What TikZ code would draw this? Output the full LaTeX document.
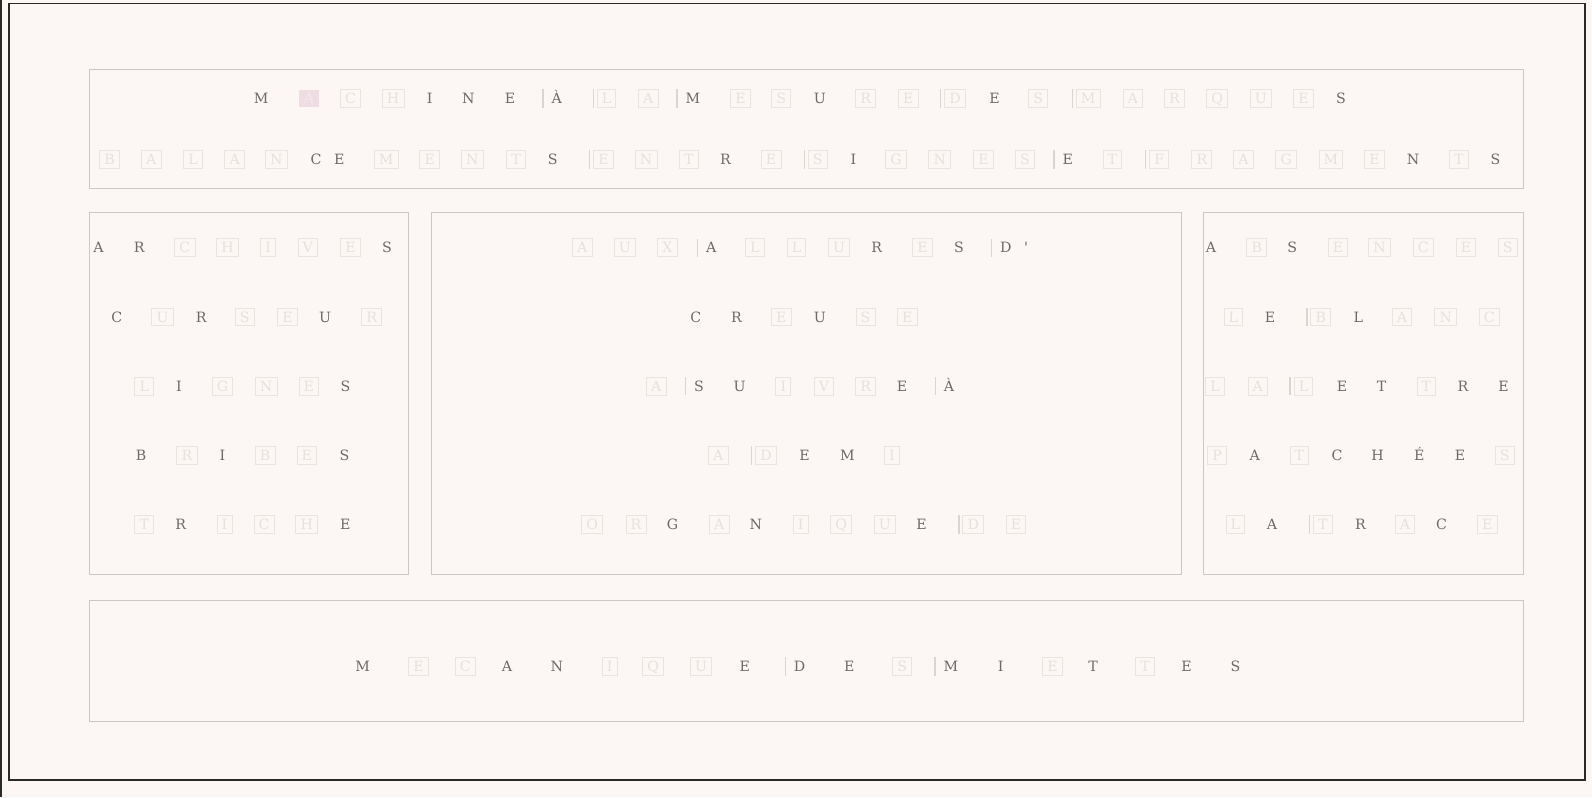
\documentclass[tikz,border=0pt]{standalone}
\usepackage{fontspec}
\setmainfont{DejaVu Serif}
\usepackage{tikz}
\definecolor{bgcream}{HTML}{FCF7F4}
\definecolor{framedark}{HTML}{2A2A2A}
\definecolor{panelgray}{HTML}{CBC7C3}
\definecolor{darkltr}{HTML}{6E6A67}
\definecolor{faintltr}{HTML}{E6E1DD}
\definecolor{faintbox}{HTML}{E9E4E0}
\definecolor{pinkbox}{HTML}{EEDEE4}
\definecolor{pinkltr}{HTML}{F3E8EC}
\definecolor{bargray}{HTML}{DAD5D1}
\newcommand{\ltrfont}{\fontsize{7}{8}\selectfont}
\newcommand{\ltrrow}[3]{%
  \foreach \ch/\kind/\px [count=\i] in {#3}
    \node[ltr\kind] (#1-\i) at (\px,#2) {\ch};
}
\newcommand{\ltrbars}[2]{%
  \foreach \i in {#2}
    \draw[sepbar] ([xshift=-1.7pt]#1-\i.south west) -- ([xshift=-1.7pt]#1-\i.north west);
}
\tikzset{
panel/.style={draw=panelgray, line width=0.5pt},
ltr/.style={font=\ltrfont, text height=5pt, text depth=0pt,
  inner xsep=2.3pt, inner ysep=1.9pt, minimum height=8.8pt},
ltrd/.style={ltr, text=darkltr},
ltrf/.style={ltr, draw=faintbox, line width=0.45pt, text=faintltr},
ltrp/.style={ltr, fill=pinkbox, text=pinkltr},
sepbar/.style={draw=bargray, line width=0.7pt}
}

\begin{document}
\begin{tikzpicture}[x=0.5pt,y=-0.5pt]
\useasboundingbox (0,0) rectangle (1567,784.5);
\fill[bgcream] (0,0) rectangle (1567,784.5);
\fill[framedark] (0,0) rectangle (2,784.5);
\draw[framedark, line width=0.65pt] (8.9,3.2) rectangle (1560,767.7);
% panels
\draw[panel] (88,68) rectangle (1500,186);
\draw[panel] (88,209) rectangle (402,565);
\draw[panel] (425,209) rectangle (1163,565);
\draw[panel] (1185,209) rectangle (1500,565);
\draw[panel] (88,591) rectangle (1500,710);
% top
\ltrrow{r1}{97}{M/d/257, A/p/304, C/f/345, H/f/387, I/d/423, N/d/461, E/d/502,
  À/d/548, L/f/597, A/f/638, M/d/682, E/f/729, S/f/769, U/d/807, R/f/852, E/f/894,
  D/f/940, E/d/979, S/f/1022, M/f/1071, A/f/1115, R/f/1156, Q/f/1198, U/f/1241,
  E/f/1283, S/d/1320}
\ltrbars{r1}{8,9,11,17,20}
\ltrrow{r2}{157}{B/f/108, A/f/149, L/f/190, A/f/231, N/f/272, C/d/311, E/d/334,
  M/f/380, E/f/423, N/f/465, T/f/508, S/d/544, E/f/594, N/f/636, T/f/678, R/d/714,
  E/f/759, S/f/805, I/d/840, G/f/882, N/f/925, E/f/968, S/f/1009, E/d/1051,
  T/f/1095, F/f/1141, R/f/1183, A/f/1224, G/f/1266, M/f/1310, E/f/1353, N/d/1391,
  T/f/1436, S/d/1472}
\ltrbars{r2}{13,18,24,26}
% left
\ltrrow{l1}{244}{A/d/97, R/d/137, C/f/182, H/f/224, I/f/264, V/f/303, E/f/345, S/d/381}
\ltrrow{l2}{312}{C/d/115, U/f/160, R/d/198, S/f/241, E/f/283, U/d/320, R/f/366}
\ltrrow{l3}{380}{L/f/142, I/d/176, G/f/219, N/f/262, E/f/304, S/d/340}
\ltrrow{l4}{448}{B/d/139, R/f/184, I/d/219, B/f/261, E/f/302, S/d/339}
\ltrrow{l5}{516}{T/f/142, R/d/178, I/f/221, C/f/260, H/f/302, E/d/340}
% middle
\ltrrow{m1}{244}{A/f/573, U/f/615, X/f/657, A/d/700, L/f/743, L/f/784, U/f/826,
  R/d/863, E/f/908, S/d/944, D/d/990, \textquotesingle/d/1010}
\ltrbars{m1}{4,11}
\ltrrow{m2}{312}{C/d/685, R/d/725, E/f/769, U/d/807, S/f/852, E/f/893}
\ltrrow{m3}{380}{A/f/646, S/d/688, U/d/728, I/f/771, V/f/811, R/f/852, E/d/888, À/d/934}
\ltrbars{m3}{2,8}
\ltrrow{m4}{448}{A/f/707, D/f/754, E/d/792, M/d/834, I/f/878}
\ltrbars{m4}{2}
\ltrrow{m5}{516}{O/f/583, R/f/626, G/d/662, A/f/708, N/d/744, I/f/788, Q/f/828,
  U/f/871, E/d/907, D/f/958, E/f/1000}
\ltrbars{m5}{10}
% right
\ltrrow{q1}{244}{A/d/1192, B/f/1237, S/d/1272, E/f/1317, N/f/1358, C/f/1401, E/f/1443, S/f/1484}
\ltrrow{q2}{312}{L/f/1214, E/d/1250, B/f/1300, L/d/1337, A/f/1380, N/f/1423, C/f/1466}
\ltrbars{q2}{3}
\ltrrow{q3}{380}{L/f/1196, A/f/1238, L/f/1283, E/d/1321, T/d/1360, T/f/1404, R/d/1440, E/d/1480}
\ltrbars{q3}{3}
\ltrrow{q4}{448}{P/f/1198, A/d/1235, T/f/1279, C/d/1316, H/d/1356, É/d/1397, E/d/1437, S/f/1481}
\ltrrow{q5}{516}{L/f/1216, A/d/1252, T/f/1302, R/d/1339, A/f/1383, C/d/1419, E/f/1464}
\ltrbars{q5}{3}
% bottom
\ltrrow{b1}{656}{M/d/357, E/f/412, C/f/458, A/d/499, N/d/548, I/f/600, Q/f/643,
  U/f/690, E/d/733, D/d/787, E/d/836, S/f/888, M/d/936, I/d/985, E/f/1036,
  T/d/1076, T/f/1127, E/d/1168, S/d/1216}
\ltrbars{b1}{10,13}
\end{tikzpicture}
\end{document}
